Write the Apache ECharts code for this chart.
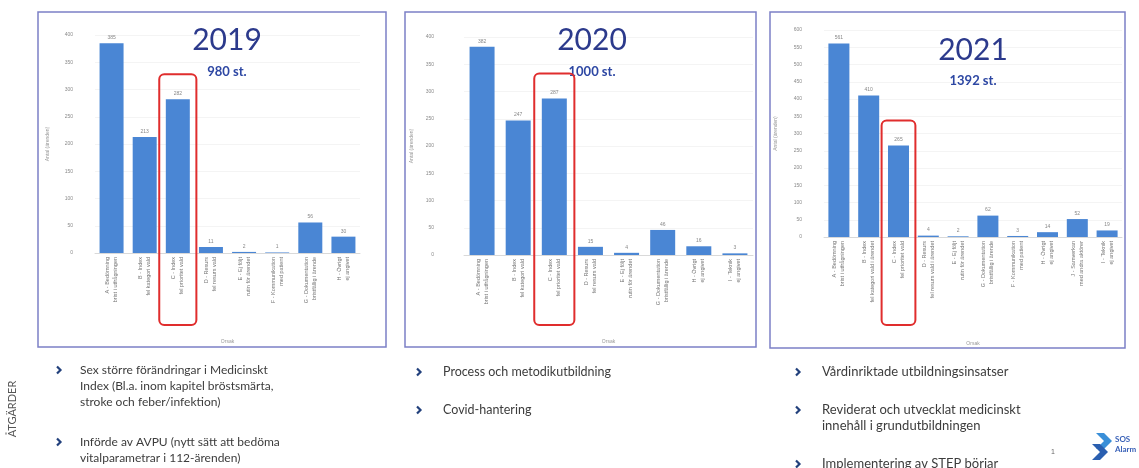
<!DOCTYPE html>
<html>
<head>
<meta charset="utf-8">
<script src="https://cdn.jsdelivr.net/npm/echarts@6/dist/echarts.min.js"></script>
<style>
  html, body { margin: 0; padding: 0; background: #fff; }
  #main { width: 1139px; height: 468px; }
</style>
</head>
<body>
<div id="main"></div>
<script>
// data
var years = ['2019', '2020', '2021'];
var totals = ['980 st.', '1000 st.', '1392 st.'];

var cats2019 = ['A - Bedömning\nbrist i utfrågningen', 'B - Index\nfel kategori vald', 'C - Index\nfel prioritet vald', 'D - Resurs\nfel resurs vald', 'E - Ej följt\nrutin för ärendet', 'F - Kommunikation\nmed patient', 'G - Dokumentation\nbristfällig i ärende', 'H - Övrigt\nej angivet'];
var vals2019 = [385, 213, 282, 11, 2, 1, 56, 30];

var cats2020 = ['A - Bedömning\nbrist i utfrågningen', 'B - Index\nfel kategori vald', 'C - Index\nfel prioritet vald', 'D - Resurs\nfel resurs vald', 'E - Ej följt\nrutin för ärendet', 'G - Dokumentation\nbristfällig i ärende', 'H - Övrigt\nej angivet', 'I - Teknik\nej angivet'];
var vals2020 = [382, 247, 287, 15, 4, 46, 16, 3];

var cats2021 = ['A - Bedömning\nbrist i utfrågningen', 'B - Index\nfel kategori vald i ärendet', 'C - Index\nfel prioritet vald', 'D - Resurs\nfel resurs vald i ärendet', 'E - Ej följt\nrutin för ärendet', 'G - Dokumentation\nbristfällig i ärende', 'F - Kommunikation\nmed patient', 'H - Övrigt\nej angivet', 'J - Samverkan\nmed andra aktörer', 'I - Teknik\nej angivet'];
var vals2021 = [561, 410, 265, 4, 2, 62, 3, 14, 52, 19];

var yMax = [400, 400, 600];
var highlightIndex = 2;

var bullets1 = [['Sex större förändringar i Medicinskt', 'Index (Bl.a. inom kapitel bröstsmärta,', 'stroke och feber/infektion)'], ['Införde av AVPU (nytt sätt att bedöma', 'vitalparametrar i 112-ärenden)']];
var bullets2 = [['Process och metodikutbildning'], ['Covid-hantering']];
var bullets3 = [['Vårdinriktade utbildningsinsatser'], ['Reviderat och utvecklat medicinskt', 'innehåll i grundutbildningen'], ['Implementering av STEP börjar']];

var myChart = echarts.init(document.getElementById('main'), null, { renderer: 'canvas' });

var grids = [
    { left: 95, right: 779, top: 35, bottom: 215 },
    { left: 464, right: 386, top: 37, bottom: 213 },
    { left: 824, right: 17, top: 30, bottom: 231 }
];
var catsAll = [cats2019, cats2020, cats2021];
var valsAll = [vals2019, vals2020, vals2021];
var yLabelMargin = [22, 30, 22];
var yNameGap = [45, 50, 46];
var xNameGap = [86, 84, 104];
var barWidths = [24, 25, 21];

var xAxes = [], yAxes = [], series = [];
for (var i = 0; i < 3; i++) {
    xAxes.push({
        type: 'category', gridIndex: i, data: catsAll[i],
        name: 'Orsak', nameLocation: 'middle', nameGap: xNameGap[i],
        nameTextStyle: { fontSize: 5, color: '#999' },
        axisLine: { lineStyle: { color: '#d9d9d9' } },
        axisTick: { show: false },
        axisLabel: { rotate: 90, fontSize: 5.5, color: '#777', interval: 0, margin: 4, lineHeight: 8 }
    });
    yAxes.push({
        type: 'value', gridIndex: i, min: 0, max: yMax[i], interval: 50,
        name: 'Antal (ärenden)', nameLocation: 'middle', nameGap: yNameGap[i],
        nameTextStyle: { fontSize: 5, color: '#999' },
        axisLabel: { fontSize: 5, color: '#8a8a8a', margin: yLabelMargin[i] },
        splitLine: { lineStyle: { color: '#f4f4f4' } }
    });
    series.push({
        type: 'bar', xAxisIndex: i, yAxisIndex: i, data: valsAll[i],
        barWidth: barWidths[i],
        itemStyle: { color: '#4a86d4' },
        label: { show: true, position: 'top', fontSize: 5, color: '#888', distance: 3 }
    });
}

function bulletBlock(list, chevX, textX, ys, size) {
    var out = [];
    for (var b = 0; b < list.length; b++) {
        var cy = ys[b] + 1;
        out.push({ type: 'polyline', shape: { points: [[chevX, cy - 3.5], [chevX + 3.5, cy], [chevX, cy + 3.5]] }, style: { stroke: '#22407c', lineWidth: 2.2, fill: null } });
        out.push({ type: 'text', left: textX, top: ys[b] - 7, style: { text: list[b].join('\n'), fontSize: size, lineHeight: 16, fill: '#3c3c3c', fontFamily: 'Lato' } });
    }
    return out;
}

var boxes = [[38, 12, 348, 335], [405, 12, 351, 335], [770, 12, 355, 336]];
var graphics = [];
boxes.forEach(function (b) {
    graphics.push({ type: 'rect', shape: { x: b[0], y: b[1], width: b[2], height: b[3] }, style: { fill: null, stroke: '#7c80c6', lineWidth: 1.5 }, z: 1 });
});
var yearPos = [[227, 40, 72], [592, 40, 72], [973, 50, 81]];
for (var k = 0; k < 3; k++) {
    graphics.push({ type: 'text', x: yearPos[k][0], y: yearPos[k][1], style: { text: years[k], fontSize: 30, fill: '#2c3a8c', align: 'center', verticalAlign: 'middle', fontFamily: 'Lato' }, z: 10 });
    graphics.push({ type: 'text', x: yearPos[k][0], y: yearPos[k][2], style: { text: totals[k], fontSize: 13, fontWeight: 'bold', fill: '#2d47a3', align: 'center', verticalAlign: 'middle', fontFamily: 'Lato' }, z: 10 });
}
graphics.push({ type: 'text', x: 12, y: 409, rotation: Math.PI / 2, style: { text: 'ÅTGÄRDER', fontSize: 11, fill: '#555', align: 'center', verticalAlign: 'middle', fontFamily: 'Lato' } });
graphics = graphics.concat(bulletBlock(bullets1, 57, 80, [369, 441], 12));
graphics = graphics.concat(bulletBlock(bullets2, 417, 443, [371, 409], 12.5));
graphics = graphics.concat(bulletBlock(bullets3, 796, 822, [371, 409, 463], 13));
graphics.push({ type: 'text', left: 1051, top: 449, style: { text: '1', fontSize: 7, fill: '#666' } });
// logo
graphics.push({ type: 'polygon', shape: { points: [[1096, 433], [1104, 433], [1112, 441], [1104, 449], [1096, 449], [1104, 441]] }, style: { fill: '#3a8fd8' } });
graphics.push({ type: 'polygon', shape: { points: [[1092, 444], [1100, 444], [1108, 452], [1100, 460], [1092, 460], [1100, 452]] }, style: { fill: '#2a5fb0' } });
graphics.push({ type: 'text', left: 1115, top: 434, style: { text: 'SOS\nAlarm', fontSize: 8, fontWeight: 'bold', lineHeight: 10, fill: '#3a62b8', fontFamily: 'Lato' } });

var option = {
    animation: false,
    grid: grids,
    xAxis: xAxes,
    yAxis: yAxes,
    series: series,
    graphic: graphics
};
myChart.setOption(option);

// red frames around the highlighted bar, placed from the axes
var frames = [];
for (var j = 0; j < 3; j++) {
    var pt = myChart.convertToPixel({ gridIndex: j }, [highlightIndex, valsAll[j][highlightIndex]]);
    var p0 = myChart.convertToPixel({ gridIndex: j }, [0, 0]);
    var p1 = myChart.convertToPixel({ gridIndex: j }, [1, 0]);
    var w = (p1[0] - p0[0]) + 4;
    var y0 = pt[1] - 25;
    frames.push({
        type: 'rect',
        shape: { x: pt[0] - w / 2, y: y0, width: w, height: 325 - y0, r: 5 },
        style: { fill: null, stroke: '#e02d2d', lineWidth: 2 },
        z: 20
    });
}
myChart.setOption({ graphic: graphics.concat(frames) });
</script>
</body>
</html>
